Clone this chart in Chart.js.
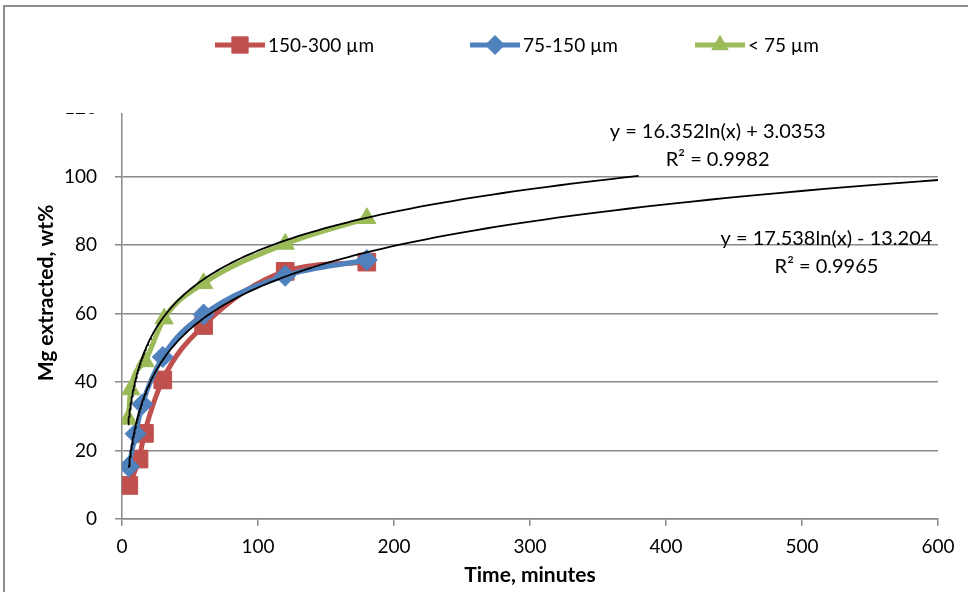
<!DOCTYPE html>
<html>
<head>
<meta charset="UTF-8">
<script src="https://cdn.jsdelivr.net/npm/chart.js"></script>
<style>
  html, body { margin: 0; padding: 0; background: #fff; }
  #wrap { width: 968px; height: 592px; position: relative; }
</style>
</head>
<body>
<div id="wrap"><canvas id="chart"></canvas></div>
<script>
  // series (time in minutes, Mg extracted in wt%)
  const seriesLabels = ['150-300 µm', '75-150 µm', '< 75 µm'];
  const coarseTime = [5, 12.5, 16.5, 30, 60, 120, 180];
  const coarseMg = [9.8, 17.5, 25, 40.6, 56.5, 72.3, 75];
  const mediumTime = [5, 10, 15, 30, 60, 120, 180];
  const mediumMg = [15.3, 24.9, 33.5, 47.3, 59.7, 71, 75.6];
  const fineTime = [4.5, 6.5, 17, 31, 60, 120, 180];
  const fineMg = [29.2, 37.8, 46, 58.5, 68.8, 80.3, 87.8];

  // log trendlines y = a ln(x) + b as printed on the chart, with their forecast range
  const trendA = [16.352, 17.538];
  const trendB = [3.0353, -13.204];
  const trendFrom = [4.5, 5];
  const trendTo = [380, 600];
  const trendText = [
    ['y = 16.352ln(x) + 3.0353', 'R² = 0.9982'],
    ['y = 17.538ln(x) - 13.204', 'R² = 0.9965']
  ];

  const xMin = 0, xMax = 600, xStep = 100;
  const yMin = 0, yMax = 120, yStep = 20;

  const RED = '#C0504D', BLUE = '#4F81BD', GREEN = '#9BBB59';
  const GRID = '#8a8a8a';
  const FONT = 'Lato, "Open Sans", sans-serif';

  const pts = (xs, ys) => xs.map((x, i) => ({ x: x, y: ys[i] }));

  const trendPoints = (i) => {
    const out = [];
    const n = 160;
    const l0 = Math.log(trendFrom[i]), l1 = Math.log(trendTo[i]);
    for (let k = 0; k <= n; k++) {
      const x = Math.exp(l0 + (l1 - l0) * k / n);
      out.push({ x: x, y: trendA[i] * Math.log(x) + trendB[i] });
    }
    return out;
  };

  const series = [
    { label: seriesLabels[0], data: pts(coarseTime, coarseMg), color: RED, style: 'rect', r: 12.5, order: 3 },
    { label: seriesLabels[1], data: pts(mediumTime, mediumMg), color: BLUE, style: 'rectRot', r: 10.5, order: 2 },
    { label: seriesLabels[2], data: pts(fineTime, fineMg), color: GREEN, style: 'triangle', r: 10.5, order: 1 }
  ];

  const datasets = series.map(s => ({
    label: s.label,
    data: s.data,
    showLine: true,
    borderColor: s.color,
    backgroundColor: s.color,
    borderWidth: 5,
    cubicInterpolationMode: 'monotone',
    pointStyle: s.style,
    pointRadius: s.r,
    pointHoverRadius: s.r,
    pointBorderWidth: 1,
    pointBorderColor: s.color,
    pointBackgroundColor: s.color,
    order: s.order
  }));

  [0, 1].forEach(i => datasets.push({
    label: 'trend' + i,
    data: trendPoints(i),
    showLine: true,
    borderColor: '#000',
    borderWidth: 1.8,
    pointRadius: 0,
    tension: 0,
    order: 0
  }));

  // trendline labels sit at data coordinates (centre of first line)
  const trendLabelAt = [{ x: 438, y: 113 }, { x: 518, y: 82 }];
  const legendX = [215, 470, 695];

  const extras = {
    id: 'extras',
    afterDraw(chart) {
      const ctx = chart.ctx;
      const xs = chart.scales.x, ys = chart.scales.y;
      ctx.save();

      // top of the value axis is cut off in the original
      ctx.fillStyle = '#fff';
      ctx.fillRect(60, chart.chartArea.top - 16, xs.left + 3 - 60, 21);

      // outer frame (left and top only visible)
      ctx.strokeStyle = '#8c8c8c';
      ctx.lineWidth = 2;
      ctx.beginPath();
      ctx.moveTo(4, chart.height);
      ctx.lineTo(4, 6);
      ctx.lineTo(chart.width, 6);
      ctx.stroke();

      // legend with line + marker
      ctx.font = '19px ' + FONT;
      ctx.textBaseline = 'middle';
      ctx.textAlign = 'left';
      series.forEach((s, i) => {
        const x0 = legendX[i], y0 = 45;
        ctx.strokeStyle = s.color;
        ctx.lineWidth = 5;
        ctx.beginPath();
        ctx.moveTo(x0, y0);
        ctx.lineTo(x0 + 50, y0);
        ctx.stroke();
        ctx.fillStyle = s.color;
        ctx.strokeStyle = s.color;
        ctx.lineWidth = 1;
        Chart.helpers.drawPoint(ctx, { pointStyle: s.style, radius: s.r - 1, borderWidth: 1 }, x0 + 25, y0);
        ctx.fillStyle = '#000';
        ctx.fillText(s.label, x0 + 53, y0 + 1);
      });

      // trendline equations
      ctx.font = '20px ' + FONT;
      ctx.textAlign = 'center';
      ctx.fillStyle = '#000';
      trendText.forEach((lines, i) => {
        const cx = xs.getPixelForValue(trendLabelAt[i].x);
        const cy = ys.getPixelForValue(trendLabelAt[i].y);
        lines.forEach((t, k) => ctx.fillText(t, cx, cy + k * 28));
      });

      // value axis title
      ctx.font = 'bold 21px ' + FONT;
      ctx.translate(46, 293);
      ctx.rotate(-Math.PI / 2);
      ctx.fillText('Mg extracted, wt%', 0, 0);
      ctx.restore();
    }
  };

  new Chart(document.getElementById('chart'), {
    type: 'scatter',
    data: { datasets: datasets },
    options: {
      responsive: true,
      maintainAspectRatio: false,
      animation: false,
      layout: { padding: { top: 108, right: 30, left: 0, bottom: 0 } },
      plugins: {
        legend: { display: false },
        tooltip: { enabled: false }
      },
      scales: {
        x: {
          type: 'linear',
          min: xMin, max: xMax,
          afterFit: s => { s.height = 73; },
          ticks: { stepSize: xStep, color: '#000', font: { family: FONT, size: 19 }, padding: 9, maxRotation: 0 },
          grid: { drawOnChartArea: false, drawTicks: true, tickLength: 7, color: GRID, lineWidth: 1.5 },
          border: { color: GRID, width: 1.5 },
          title: { display: true, text: 'Time, minutes', color: '#000', font: { family: FONT, size: 21, weight: 'bold' }, padding: { top: 0, bottom: 4 } }
        },
        y: {
          min: yMin, max: yMax,
          afterFit: s => { s.width = 122; },
          ticks: { stepSize: yStep, color: '#000', font: { family: FONT, size: 19 }, padding: 18 },
          grid: {
            color: c => (c.tick && c.tick.value === yMax ? 'rgba(0,0,0,0)' : GRID),
            lineWidth: 1.5, tickLength: 7
          },
          border: { color: GRID, width: 1.5 }
        }
      }
    },
    plugins: [extras]
  });
</script>
</body>
</html>
